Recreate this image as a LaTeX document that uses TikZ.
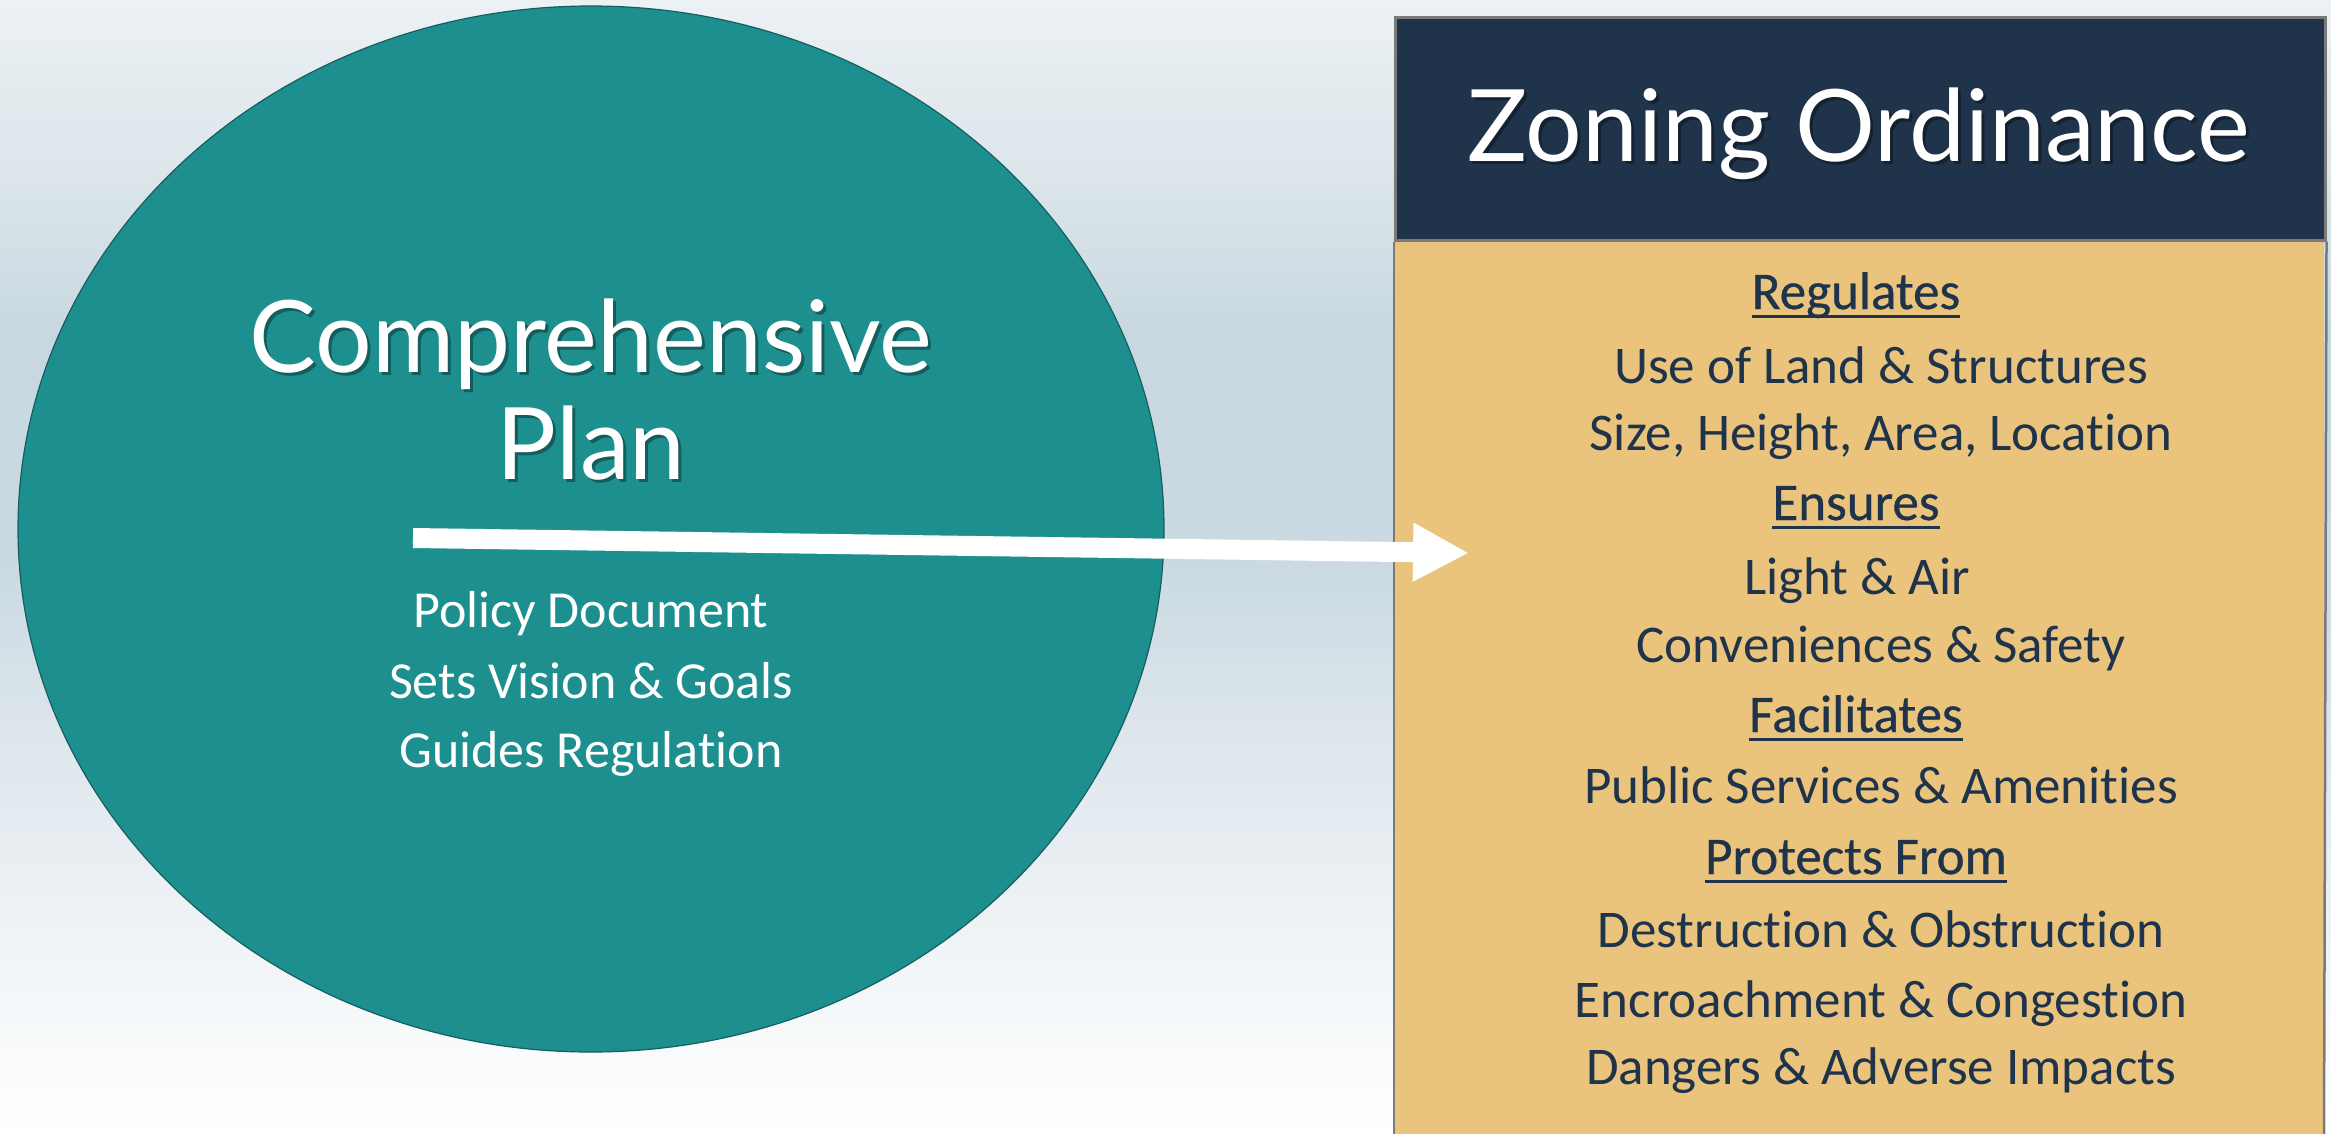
\documentclass[tikz,border=0pt]{standalone}
\usepackage{fontspec}
\setmainfont{Carlito}[Ligatures=NoCommon]
\newfontfamily\headfont{Carlito}[Ligatures=NoCommon, FakeBold=0.6]
\newfontfamily\titlefont{Lato}
\usetikzlibrary{arrows.meta,shapes.geometric}
\definecolor{teal}{HTML}{1E8F8F}
\definecolor{tealedge}{HTML}{155F60}
\definecolor{navy}{HTML}{1F334A}
\definecolor{tan}{HTML}{EAC47D}
\definecolor{boxedge}{HTML}{7A7A7A}
\definecolor{bgA}{HTML}{F8FAFB}
\definecolor{bgB}{HTML}{E3EAEF}
\definecolor{bgC}{HTML}{CBDAE2}
\definecolor{bgD}{HTML}{C8D8E0}
\definecolor{bgE}{HTML}{DCE6EB}
\definecolor{bgF}{HTML}{ECF1F4}
% TikZ maps 25bp (bottom) .. 75bp (top) of the shading onto the path
\pgfdeclareverticalshading{bgshade}{100bp}{color(0bp)=(white); color(25bp)=(white); color(29bp)=(bgA); color(40bp)=(bgB); color(50bp)=(bgC); color(60bp)=(bgD); color(67.5bp)=(bgE); color(75bp)=(bgF); color(100bp)=(bgF)}
\tikzset{
  item/.style={font=\fontsize{53}{60}\selectfont, text=navy, anchor=base, inner sep=0pt},
  headitem/.style={item, font=\headfont\fontsize{53}{60}\selectfont},
  litem/.style={font=\fontsize{52}{60}\selectfont, text=white, anchor=base, inner sep=0pt},
  titletext/.style={font=\titlefont\fontsize{100}{110}\selectfont, text=white, anchor=base, inner sep=0pt},
  titleshadow/.style={titletext, text=black, opacity=0.35},
  uline/.style={draw=navy, line width=3pt},
}
\begin{document}
\begin{tikzpicture}[x=1pt, y=-1pt]
\useasboundingbox (0,0) rectangle (2331,1133);
\shade[shading=bgshade] (0,0) rectangle (2331,1133);
% ellipse
\node[ellipse, draw=tealedge, line width=1.2pt, fill=teal, minimum width=1146pt, minimum height=1046pt, inner sep=0pt] (plan) at (591,529) {};
% box
\fill[tan] (1394,16) rectangle (2324,1140);
\node[draw=boxedge, line width=2.5pt, fill=navy, minimum width=930pt, minimum height=223pt, inner sep=0pt, anchor=north west] (header) at (1394,16) {};
\draw[boxedge, line width=2.5pt] (header.south west) -- (1394,1140);
\draw[boxedge, line width=2.5pt] (header.south east) -- (2324,1140);
% titles
\node[titleshadow] at (594,375) {Comprehensive};
\node[titletext] (t1) at (591,372) {Comprehensive};
\node[titleshadow] at (594,482) {Plan};
\node[titletext] (t2) at (591,479) {Plan};
\node[titleshadow] at (1862,164) {Zoning Ordinance};
\node[titletext] (zt) at (1859,161) {Zoning Ordinance};
% left items
\node[litem] (l1) at (591,627) {Policy Document};
\node[litem] (l2) at (591,698) {Sets Vision \& Goals};
\node[litem] (l3) at (591,767) {Guides Regulation};
% right items
\node[headitem] (h1) at (1856,309) {Regulates};
\node[item] (r1) at (1881,383) {Use of Land \& Structures};
\node[item] (r2) at (1881,450) {Size, Height, Area, Location};
\node[headitem] (h2) at (1856,520) {Ensures};
\node[item] (r3) at (1857,594) {Light \& Air};
\node[item] (r4) at (1881,662) {Conveniences \& Safety};
\node[headitem] (h3) at (1856,732) {Facilitates};
\node[item] (r5) at (1881,803) {Public Services \& Amenities};
\node[headitem] (h4) at (1856,874) {Protects From};
\node[item] (r6) at (1881,947) {Destruction \& Obstruction};
\node[item] (r7) at (1881,1017) {Encroachment \& Congestion};
\node[item] (r8) at (1881,1084) {Dangers \& Adverse Impacts};
\foreach \h in {h1,h2,h3,h4}{
  \draw[uline] ([yshift=-7pt]\h.base west) -- ([yshift=-7pt]\h.base east);
}
% arrow
\coordinate (as) at (413,538);
\coordinate (ae) at (1469,553);
\draw[white, line width=20pt, -{Triangle[length=56pt,width=55pt]}] (as) -- (ae);
\end{tikzpicture}
\end{document}
